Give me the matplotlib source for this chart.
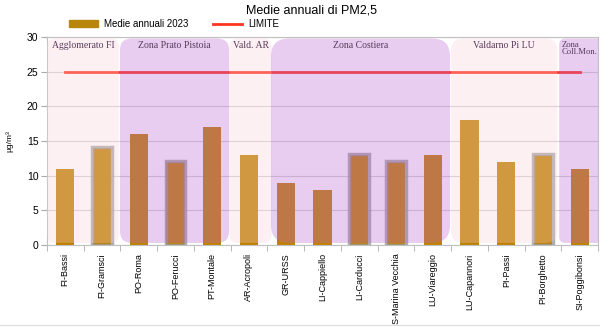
import numpy as np
import matplotlib.pyplot as plt
from matplotlib.patches import FancyBboxPatch, Rectangle, Patch
from matplotlib.lines import Line2D
from matplotlib.transforms import Affine2D

plt.rcParams['font.family'] = ['Liberation Sans', 'DejaVu Sans']

# data
stations = ['FI-Bassi', 'FI-Gramsci', 'PO-Roma', 'PO-Ferucci', 'PT-Montale',
            'AR-Acropoli', 'GR-URSS', 'LI-Cappiello', 'LI-Carducci',
            'S-Marina Vecchia', 'LU-Viareggio', 'LU-Capannori', 'PI-Passi',
            'PI-Borghetto', 'SI-Poggibonsi']
medie_2023 = [11, 14, 16, 12, 17, 13, 9, 8, 13, 12, 13, 18, 12, 13, 11]
limite = 25
highlighted = ['FI-Gramsci', 'PO-Ferucci', 'LI-Carducci', 'S-Marina Vecchia', 'PI-Borghetto']

zone_names = ['Agglomerato FI', 'Zona Prato Pistoia', 'Vald. AR', 'Zona Costiera',
              'Valdarno Pi LU', 'Zona\nColl.Mon.']
zone_kind = ['pink', 'purple', 'pink', 'purple', 'pink', 'purple']

fig = plt.figure(figsize=(6, 3.28), dpi=100)
ax = fig.add_axes([0.078, 0.253, 0.919, 0.634])

x = np.arange(len(stations))
ax.set_xlim(-0.5, len(stations) - 0.5)
ax.set_ylim(0, 30)

ax.yaxis.grid(True, color='#d4d4d4', lw=0.8, zorder=0)
ax.set_axisbelow(True)

ax.bar(x, medie_2023, width=0.5, color='#c08000', zorder=2)

# grey outline on highlighted stations
for i, s in enumerate(stations):
    if s in highlighted:
        ax.add_patch(Rectangle((i - 0.27, 0), 0.54, medie_2023[i] + 0.15, fill=False,
                               ec='#9a9a9a', lw=2.5, alpha=0.8, zorder=3))

ax.plot([0, len(stations) - 1], [limite, limite], color='#ff3322', lw=2.0, zorder=3)

# rounded zone overlays, built in pixel units so corners stay circular
fig.canvas.draw()
bb = ax.get_window_extent()
px_x = bb.width / len(stations)
px_y = bb.height / 30
to_data = Affine2D().scale(1 / px_x, 1 / px_y) + ax.transData

colors = {'pink': ('#f8d0d6', 0.3), 'purple': ('#ba68d2', 0.33)}
bounds = [(-0.5, 1.46), (1.49, 4.46), (4.47, 5.62), (5.6, 10.47), (10.5, 13.39), (13.44, 14.6)]
radius = [8, 12, 8, 18, 12, 6]
y0, y1 = 0.3, 29.8
for k, name in enumerate(zone_names):
    a, b = bounds[k]
    c, al = colors[zone_kind[k]]
    p = FancyBboxPatch((a * px_x, y0 * px_y), (b - a) * px_x, (y1 - y0) * px_y,
                       boxstyle='round,pad=0,rounding_size=%g' % radius[k],
                       transform=to_data, fc=c, ec='none', alpha=al, zorder=4)
    ax.add_patch(p)
    if k == len(zone_names) - 1:
        ax.text(a + 0.07, 29.4, name, ha='left', va='top', fontsize=6.2,
                family='Liberation Serif', color='#5a3a5a', linespacing=0.85, zorder=5)
    else:
        ax.text((a + b) / 2, 29.4, name, ha='center', va='top', fontsize=7,
                family='Liberation Serif', color='#5a3a5a', zorder=5)

ax.set_yticks(np.arange(0, 31, 5))
ax.set_xticks(x)
ax.set_xticklabels(stations, rotation=90, fontsize=6.5)
ax.set_xticks(np.arange(-0.5, len(stations)), minor=True)
ax.tick_params(axis='x', which='major', length=0, pad=6)
ax.tick_params(axis='x', which='minor', length=4, color='#aaaaaa')
ax.tick_params(axis='y', labelsize=7.5, length=4, color='#aaaaaa', pad=2)
ax.set_ylabel('µg/m³', fontsize=6, labelpad=10)

for sp in ax.spines.values():
    sp.set_color('#c0c0c0')
    sp.set_linewidth(0.8)

fig.suptitle('Medie annuali di PM2,5', x=0.52, y=0.985, fontsize=9)

handles = [Patch(color='#b8860b'), Line2D([], [], color='#ff3322', lw=2)]
fig.legend(handles, ['Medie annuali 2023', 'LIMITE'], loc='center', ncol=2,
           bbox_to_anchor=(0.29, 0.927), frameon=False, fontsize=7,
           handlelength=3, handleheight=0.6, columnspacing=2.5, handletextpad=0.6)

fig.add_artist(Line2D([0, 1], [0.008, 0.008], color='#dddddd', lw=0.8))

fig.savefig('out.png', dpi=100)
